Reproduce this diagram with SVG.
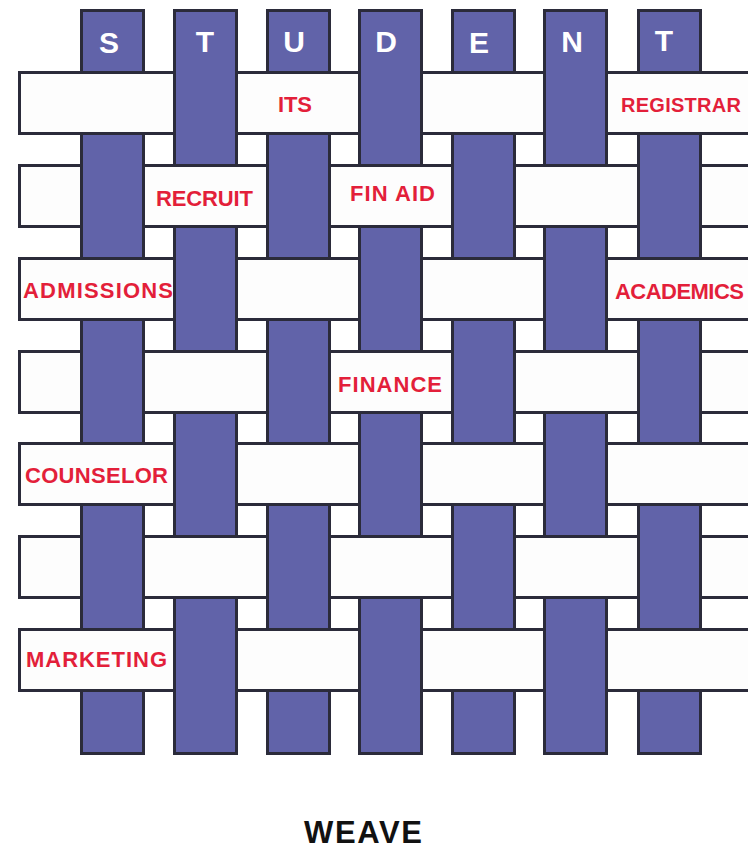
<svg xmlns="http://www.w3.org/2000/svg" width="748" height="851" viewBox="0 0 748 851">
<style>
.v{fill:#6163a9;stroke:#2b2b3a;stroke-width:3}
.h{fill:#fdfdfd;stroke:#2b2b3a;stroke-width:3}
.let{font-family:"Liberation Sans",Arial,sans-serif;font-weight:bold;font-size:30px;fill:#ffffff;text-anchor:middle}
.lab{font-family:"Liberation Sans",Arial,sans-serif;font-weight:bold;font-size:22px;fill:#e31f3a}
.sm{font-size:20px}
.title{font-family:"Liberation Sans",Arial,sans-serif;font-weight:bold;font-size:31px;fill:#111111}
</style>
<rect width="748" height="851" fill="#ffffff"/>
<g id="columns">
<g id="col-S"><rect class="v" x="81.5" y="10.5" width="62" height="743"/><text class="let" x="109" y="53">S</text></g>
<g id="col-T1"><rect class="v" x="174.5" y="10.5" width="62" height="743"/><text class="let" x="205" y="52">T</text></g>
<g id="col-U"><rect class="v" x="267.5" y="10.5" width="62" height="743"/><text class="let" x="294" y="52">U</text></g>
<g id="col-D"><rect class="v" x="359.5" y="10.5" width="62" height="743"/><text class="let" x="386" y="52">D</text></g>
<g id="col-E"><rect class="v" x="452.5" y="10.5" width="62" height="743"/><text class="let" x="479" y="53">E</text></g>
<g id="col-N"><rect class="v" x="544.5" y="10.5" width="62" height="743"/><text class="let" x="572" y="52">N</text></g>
<g id="col-T2"><rect class="v" x="638.5" y="10.5" width="62" height="743"/><text class="let" x="664" y="51">T</text></g>
</g>
<g id="row-1">
<rect class="h" x="19.5" y="72.5" width="155" height="61"/>
<rect class="h" x="236.5" y="72.5" width="123" height="61"/>
<rect class="h" x="421.5" y="72.5" width="123" height="61"/>
<rect class="h" x="606.5" y="72.5" width="153.5" height="61"/>
<text class="lab" x="278" y="112" textLength="34">ITS</text>
<text class="lab sm" x="621" y="112" textLength="120">REGISTRAR</text>
</g>
<g id="row-2">
<rect class="h" x="19.5" y="165.5" width="62" height="61"/>
<rect class="h" x="143.5" y="165.5" width="124" height="61"/>
<rect class="h" x="329.5" y="165.5" width="123" height="61"/>
<rect class="h" x="514.5" y="165.5" width="124" height="61"/>
<rect class="h" x="700.5" y="165.5" width="59.5" height="61"/>
<text class="lab" x="156" y="206" textLength="97">RECRUIT</text>
<text class="lab" x="350" y="201" textLength="85">FIN AID</text>
</g>
<g id="row-3">
<rect class="h" x="19.5" y="258.5" width="155" height="61"/>
<rect class="h" x="236.5" y="258.5" width="123" height="61"/>
<rect class="h" x="421.5" y="258.5" width="123" height="61"/>
<rect class="h" x="606.5" y="258.5" width="153.5" height="61"/>
<text class="lab" x="23" y="298" textLength="150">ADMISSIONS</text>
<text class="lab" x="615" y="299" textLength="129">ACADEMICS</text>
</g>
<g id="row-4">
<rect class="h" x="19.5" y="351.5" width="62" height="61"/>
<rect class="h" x="143.5" y="351.5" width="124" height="61"/>
<rect class="h" x="329.5" y="351.5" width="123" height="61"/>
<rect class="h" x="514.5" y="351.5" width="124" height="61"/>
<rect class="h" x="700.5" y="351.5" width="59.5" height="61"/>
<text class="lab" x="338" y="392" textLength="104">FINANCE</text>
</g>
<g id="row-5">
<rect class="h" x="19.5" y="443.5" width="155" height="61"/>
<rect class="h" x="236.5" y="443.5" width="123" height="61"/>
<rect class="h" x="421.5" y="443.5" width="123" height="61"/>
<rect class="h" x="606.5" y="443.5" width="153.5" height="61"/>
<text class="lab" x="25" y="483" textLength="143">COUNSELOR</text>
</g>
<g id="row-6">
<rect class="h" x="19.5" y="536.5" width="62" height="61"/>
<rect class="h" x="143.5" y="536.5" width="124" height="61"/>
<rect class="h" x="329.5" y="536.5" width="123" height="61"/>
<rect class="h" x="514.5" y="536.5" width="124" height="61"/>
<rect class="h" x="700.5" y="536.5" width="59.5" height="61"/>
</g>
<g id="row-7">
<rect class="h" x="19.5" y="629.5" width="155" height="61"/>
<rect class="h" x="236.5" y="629.5" width="123" height="61"/>
<rect class="h" x="421.5" y="629.5" width="123" height="61"/>
<rect class="h" x="606.5" y="629.5" width="153.5" height="61"/>
<text class="lab" x="26" y="667" textLength="141">MARKETING</text>
</g>
<g id="connectors"></g>
<g id="title"><text class="title" x="304" y="843" textLength="118">WEAVE</text></g>
</svg>
